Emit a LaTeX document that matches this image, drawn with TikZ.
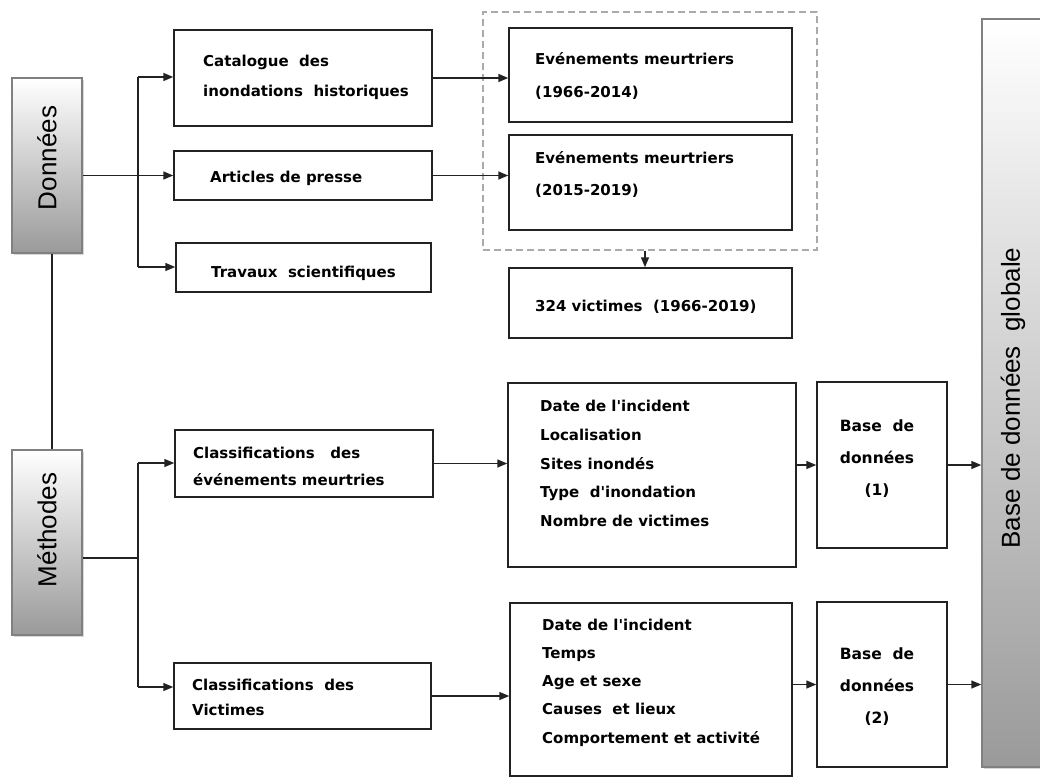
\documentclass[tikz,border=0pt]{standalone}
\usepackage{fontspec}
\newfontfamily\bxf{DejaVu Sans}
\newfontfamily\arf{Liberation Sans}
\usetikzlibrary{arrows.meta,calc,shadows}
\definecolor{bord}{HTML}{222222}
\definecolor{gbord}{HTML}{808080}
\definecolor{gbot}{HTML}{9A9A9A}
\definecolor{dashc}{HTML}{AAAAAA}
\tikzset{
  box/.style={draw=bord, line width=1.5pt, fill=white, inner sep=0pt, rectangle},
  gbox/.style={draw=gbord, line width=1.5pt, inner sep=0pt, rectangle, top color=white, bottom color=gbot,
    drop shadow={opacity=0.3, shadow xshift=2pt, shadow yshift=-2pt}},
  dbox/.style={draw=dashc, line width=1.2pt, dash pattern=on 7pt off 4pt, inner sep=0pt, rectangle},
  txt/.style={font=\bxf\bfseries\fontsize{15}{#1}\selectfont, anchor=west, inner sep=0pt, align=left},
  txt/.default=18,
  ctxt/.style={font=\bxf\bfseries\fontsize{15.5}{#1}\selectfont, inner sep=0pt, align=center},
  rtxt/.style={font=\arf\fontsize{26}{30}\selectfont, rotate=90, inner sep=0pt},
  arr/.style={draw=bord, line width=1.5pt, -{Triangle[length=10pt,width=8pt]}},
  ln/.style={draw=bord, line width=1.5pt}
}
\begin{document}
\begin{tikzpicture}[x=1pt,y=-1pt]
\useasboundingbox (0,0) rectangle (1040,780);
\fill[white] (0,0) rectangle (1040,780);

% gray boxes
\node[gbox, minimum width=70pt, minimum height=175pt] (don) at (47,165.5) {};
\node[gbox, minimum width=70pt, minimum height=185pt] (met) at (47,542.5) {};
\node[gbox, minimum width=68pt, minimum height=748pt] (glob) at (1016,393) {};
\node[rtxt] (donT) at (47,158) {Données};
\node[rtxt] (metT) at (47,530) {Méthodes};
\node[rtxt] (globT) at (1013,398) {Base de données\ \ globale};

% dashed group
\node[dbox, minimum width=334pt, minimum height=238pt] (dash) at (650,131) {};

% boxes
\node[box, minimum width=258pt, minimum height=96pt] (cat) at (303,78) {};
\node[box, minimum width=258pt, minimum height=49pt] (art) at (303,175.5) {};
\node[box, minimum width=255pt, minimum height=49pt] (trav) at (303.5,267.5) {};
\node[box, minimum width=283pt, minimum height=94pt] (ev1) at (650.5,75) {};
\node[box, minimum width=283pt, minimum height=95pt] (ev2) at (650.5,182.5) {};
\node[box, minimum width=283pt, minimum height=70pt] (vic) at (650.5,303) {};
\node[box, minimum width=258pt, minimum height=67pt] (cl1) at (304,463.5) {};
\node[box, minimum width=257pt, minimum height=66pt] (cl2) at (302.5,696) {};
\node[box, minimum width=288pt, minimum height=184pt] (l1) at (652,475) {};
\node[box, minimum width=282pt, minimum height=173pt] (l2) at (651,689.5) {};
\node[box, minimum width=130pt, minimum height=166pt] (b1) at (882,465) {};
\node[box, minimum width=130pt, minimum height=165pt] (b2) at (882,684.5) {};

% texts
\node[txt=30] (catT) at (203,77) {Catalogue\ \ des\\inondations\ \ historiques};
\node[txt] (artT) at (210,178) {Articles de presse};
\node[txt] (travT) at (211,273) {Travaux\ \ scientifiques};
\node[txt=33] (ev1T) at (535,75.5) {Evénements meurtriers\\(1966-2014)};
\node[txt=32] (ev2T) at (535,174) {Evénements meurtriers\\(2015-2019)};
\node[txt] (vicT) at (535,307) {324 victimes\ \ (1966-2019)};
\node[txt=27] (cl1T) at (193,466.5) {Classifications\ \ \ des\\événements meurtries};
\node[txt=25] (cl2T) at (192,697.5) {Classifications\ \ des\\Victimes};
\node[txt=28.75] (l1T) at (540,463.5) {Date de l'incident\\Localisation\\Sites inondés\\Type\ \ d'inondation\\Nombre de victimes};
\node[txt=28.25] (l2T) at (542,682.5) {Date de l'incident\\Temps\\Age et sexe\\Causes\ \ et lieux\\Comportement et activité};
\node[ctxt=32] (b1T) at (877,459) {Base\ \ de\\données\\(1)};
\node[ctxt=32] (b2T) at (877,687) {Base\ \ de\\données\\(2)};

% connectors: Données
\coordinate (bt) at (138,77);
\coordinate (bb) at (138,267);
\draw[ln] (bt) -- (bb);
\draw[arr] (don.east |- art.west) -- (art.west);
\draw[arr] (bt) -- (bt -| cat.west);
\draw[arr] (bb) -- (bb -| trav.west);
\coordinate (dl) at ($(don.south)+(5,0)$);
\draw[ln] (dl) -- (dl |- met.north);

% connectors: Méthodes
\coordinate (mt) at (138,463);
\coordinate (mb) at (138,687);
\coordinate (mm) at (138,558);
\draw[ln] (met.east |- mm) -- (mm);
\draw[ln] (mt) -- (mb);
\draw[arr] (mt) -- (mt -| cl1.west);
\draw[arr] (mb) -- (mb -| cl2.west);

% connectors: right part
\draw[arr] (cat.east) -- (cat.east -| ev1.west);
\draw[arr] (art.east) -- (art.east -| ev2.west);
\coordinate (ds) at ($(dash.south)+(-5,0)$);
\draw[arr] (ds) -- (ds |- vic.north);
\draw[arr] (cl1.east) -- (cl1.east -| l1.west);
\draw[arr] (b1.west -| l1.east) -- (b1.west);
\draw[arr] (b1.east) -- (b1.east -| glob.west);
\draw[arr] (cl2.east) -- (cl2.east -| l2.west);
\draw[arr] (b2.west -| l2.east) -- (b2.west);
\draw[arr] (b2.east) -- (b2.east -| glob.west);
\end{tikzpicture}
\end{document}
